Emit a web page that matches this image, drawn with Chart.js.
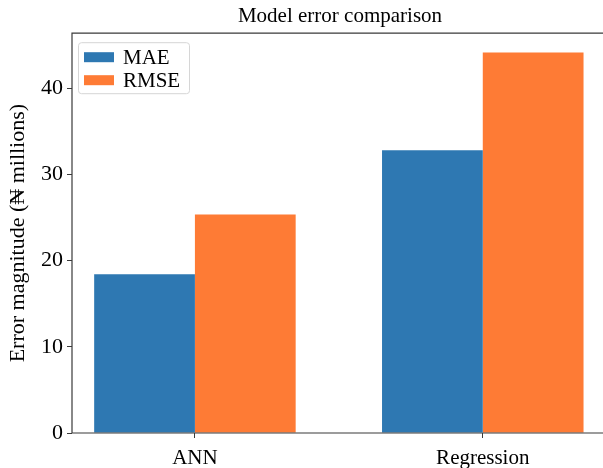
<!DOCTYPE html>
<html>
<head>
<meta charset="utf-8">
<script src="https://cdn.jsdelivr.net/npm/chart.js@4.4.1/dist/chart.umd.min.js"></script>
<style>
  html, body { margin: 0; padding: 0; background: #fff; overflow: hidden; }
  #wrap { width: 612px; height: 468px; }
</style>
</head>
<body>
<div id="wrap"><canvas id="errChart"></canvas></div>
<script>
const categories = ['ANN', 'Regression'];
const maeValues = [18.43, 32.81];
const rmseValues = [25.35, 44.17];
const yTicks = [0, 10, 20, 30, 40];

const blue = '#2e78b2';
const orange = '#fe7b35';
const serif = '"Liberation Serif", "Times New Roman", "DejaVu Serif", serif';

// left, top and bottom spines (the right one falls outside the picture)
const framePlugin = {
    id: 'frame',
    afterDatasetsDraw(chart) {
        const { ctx, chartArea: a } = chart;
        ctx.save();
        ctx.strokeStyle = '#3a3a3a';
        ctx.lineWidth = 1.2;
        ctx.beginPath();
        ctx.moveTo(chart.width, a.top);
        ctx.lineTo(a.left, a.top);
        ctx.lineTo(a.left, a.bottom);
        ctx.lineTo(chart.width, a.bottom);
        ctx.stroke();
        ctx.restore();
    }
};

// legend box inside the upper left corner
const innerLegend = {
    id: 'innerLegend',
    afterDraw(chart) {
        const { ctx, chartArea: a } = chart;
        const x = a.left + 6, y = a.top + 9, w = 111, h = 51;
        ctx.save();
        ctx.fillStyle = 'rgba(255,255,255,0.8)';
        ctx.strokeStyle = '#d6d6d6';
        ctx.lineWidth = 1;
        ctx.beginPath();
        ctx.roundRect(x + 0.5, y + 0.5, w, h, 3);
        ctx.fill();
        ctx.stroke();
        ctx.font = `21px ${serif}`;
        ctx.textBaseline = 'middle';
        chart.data.datasets.forEach((ds, i) => {
            const cy = y + 15 + i * 23;
            ctx.fillStyle = ds.backgroundColor;
            ctx.fillRect(x + 6, cy - 5, 30, 10);
            ctx.fillStyle = '#000';
            ctx.fillText(ds.label, x + 45, cy + 1);
        });
        ctx.restore();
    }
};

new Chart(document.getElementById('errChart').getContext('2d'), {
    type: 'bar',
    data: {
        datasets: [
            {
                label: 'MAE',
                data: categories.map((c, i) => ({ x: i, y: maeValues[i] })),
                backgroundColor: blue,
                borderWidth: 0
            },
            {
                label: 'RMSE',
                data: categories.map((c, i) => ({ x: i, y: rmseValues[i] })),
                backgroundColor: orange,
                borderWidth: 0
            }
        ]
    },
    options: {
        responsive: true,
        maintainAspectRatio: false,
        animation: false,
        categoryPercentage: 0.7,
        barPercentage: 1.0,
        layout: { padding: { left: 0, right: 4, top: 0, bottom: 0 } },
        plugins: {
            legend: { display: false },
            tooltip: { enabled: false },
            title: {
                display: true,
                fullSize: false,
                text: 'Model error comparison',
                color: '#000',
                font: { family: serif, size: 21, weight: 'normal' },
                padding: { top: 4, bottom: 4 }
            }
        },
        scales: {
            x: {
                type: 'linear',
                offset: false,
                min: -0.427,
                max: 1.435,
                afterBuildTicks: (s) => { s.ticks = categories.map((c, i) => ({ value: i })); },
                ticks: {
                    color: '#000',
                    font: { family: serif, size: 21 },
                    padding: 8,
                    maxRotation: 0,
                    callback: (v, i) => categories[i]
                },
                grid: { offset: false, drawOnChartArea: false, tickLength: 5, tickColor: '#3a3a3a' },
                border: { display: false },
                afterFit: (s) => { s.height = 35; }
            },
            y: {
                min: 0,
                max: 46.4,
                afterBuildTicks: (s) => { s.ticks = yTicks.map(v => ({ value: v })); },
                ticks: {
                    color: '#000',
                    font: { family: serif, size: 22 },
                    padding: 4
                },
                grid: { drawOnChartArea: false, tickLength: 5, tickColor: '#3a3a3a' },
                border: { display: false },
                title: {
                    display: true,
                    text: 'Error magnitude (₦ millions)',
                    color: '#000',
                    font: { family: serif, size: 22 },
                    padding: { top: 5, bottom: 0 }
                },
                afterFit: (s) => { s.width = 72; }
            }
        }
    },
    plugins: [framePlugin, innerLegend]
});
</script>
</body>
</html>
